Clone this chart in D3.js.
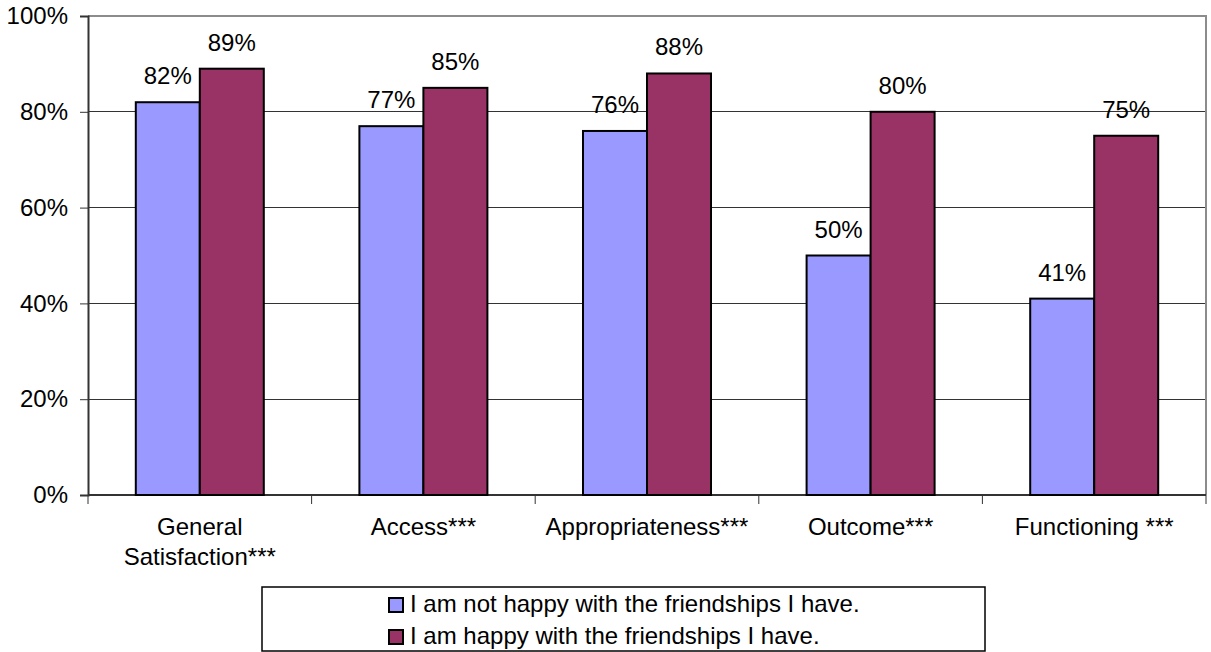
<!DOCTYPE html>
<html>
<head>
<meta charset="utf-8">
<script src="https://cdn.jsdelivr.net/npm/d3@7"></script>
<style>
  html, body { margin: 0; padding: 0; background: #fff; }
  svg { display: block; font-family: "Liberation Sans", Arial, sans-serif; }
</style>
</head>
<body>
<svg id="chart" width="1211" height="652"></svg>
<script>
// Survey domains (two-line labels split on "\n")
const categories = ["General\nSatisfaction***", "Access***", "Appropriateness***", "Outcome***", "Functioning ***"];
const seriesNames = ["I am not happy with the friendships I have.", "I am happy with the friendships I have."];
const notHappy = [82, 77, 76, 50, 41];
const happy = [89, 85, 88, 80, 75];
const yTicks = [0, 20, 40, 60, 80, 100];
const colors = ["#9999FF", "#993366"];

const svg = d3.select("#chart");
const fontSize = 24;
const plot = { left: 88, right: 1206, top: 16, bottom: 495 };

const x = d3.scaleBand().domain(categories).range([plot.left, plot.right]).paddingInner(0).paddingOuter(0);
const x1 = d3.scaleBand().domain([0, 1]).range([0, 128]);
const y = d3.scaleLinear().domain([0, 100]).range([plot.bottom, plot.top]);

// Horizontal gridlines
svg.append("g").selectAll("line").data(yTicks.filter(d => d > 0 && d < 100)).join("line")
  .attr("x1", plot.left).attr("x2", plot.right)
  .attr("y1", d => y(d)).attr("y2", d => y(d))
  .attr("stroke", "#333").attr("stroke-width", 1).attr("shape-rendering", "crispEdges");

// Plot frame: top and right sides in gray
svg.append("path")
  .attr("d", `M${plot.left},${y(100)}H${plot.right}V${plot.bottom}`)
  .attr("fill", "none").attr("stroke", "#8c8c8c").attr("stroke-width", 2);

// Y axis
const yAxis = svg.append("g").attr("transform", `translate(${plot.left},0)`)
  .call(d3.axisLeft(y).tickValues(yTicks).tickSize(8).tickPadding(12).tickFormat(d => d + "%"));
yAxis.select(".domain").attr("stroke", "#333").attr("stroke-width", 2);
yAxis.selectAll(".tick line").attr("stroke", "#333").attr("stroke-width", 1);
yAxis.selectAll(".tick text").attr("font-size", fontSize).attr("fill", "#000")
  .attr("font-family", "Liberation Sans, Arial, sans-serif");

// X axis: ticks at category boundaries
const xAxis = svg.append("g").attr("transform", `translate(0,${plot.bottom})`);
xAxis.append("line").attr("x1", plot.left).attr("x2", plot.right)
  .attr("stroke", "#333").attr("stroke-width", 2);
const boundaries = categories.map(c => x(c)).concat([plot.right]);
xAxis.selectAll("line.tk").data(boundaries).join("line").attr("class", "tk")
  .attr("x1", d => d).attr("x2", d => d).attr("y1", 0).attr("y2", 9)
  .attr("stroke", "#333").attr("stroke-width", 1);

// Category labels
const catLabels = svg.append("g").selectAll("text").data(categories).join("text")
  .attr("x", d => x(d) + x.bandwidth() / 2)
  .attr("y", 535)
  .attr("text-anchor", "middle")
  .attr("font-size", fontSize).attr("fill", "#000");
catLabels.selectAll("tspan").data(d => d.split("\n")).join("tspan")
  .attr("x", function () { return d3.select(this.parentNode).attr("x"); })
  .attr("dy", (d, i) => i === 0 ? 0 : 30)
  .text(d => d);

// Bars
const rows = categories.map((c, i) => ({ c, vals: [notHappy[i], happy[i]] }));
const groups = svg.append("g").selectAll("g").data(rows).join("g")
  .attr("transform", d => `translate(${x(d.c) + x.bandwidth() / 2 - 64},0)`);

groups.selectAll("rect").data(d => d.vals.map((v, s) => ({ v, s }))).join("rect")
  .attr("x", d => x1(d.s))
  .attr("y", d => y(d.v))
  .attr("width", x1.bandwidth())
  .attr("height", d => y(0) - y(d.v))
  .attr("fill", d => colors[d.s])
  .attr("stroke", "#000").attr("stroke-width", 2);

// Value labels
groups.selectAll("text").data(d => d.vals.map((v, s) => ({ v, s }))).join("text")
  .attr("x", d => x1(d.s) + x1.bandwidth() / 2)
  .attr("y", d => y(d.v) - 18)
  .attr("text-anchor", "middle")
  .attr("font-size", fontSize).attr("fill", "#000")
  .text(d => d.v + "%");

// Legend
const legend = svg.append("g");
legend.append("rect").attr("x", 262).attr("y", 587).attr("width", 723).attr("height", 64)
  .attr("fill", "#fff").attr("stroke", "#000").attr("stroke-width", 1.5);
const items = legend.selectAll("g").data(seriesNames).join("g")
  .attr("transform", (d, i) => `translate(389,${598 + i * 32})`);
items.append("rect").attr("width", 14).attr("height", 14)
  .attr("fill", (d, i) => colors[i]).attr("stroke", "#000").attr("stroke-width", 2);
items.append("text").attr("x", 21).attr("y", 14)
  .attr("font-size", fontSize).attr("fill", "#000").text(d => d);
</script>
</body>
</html>
